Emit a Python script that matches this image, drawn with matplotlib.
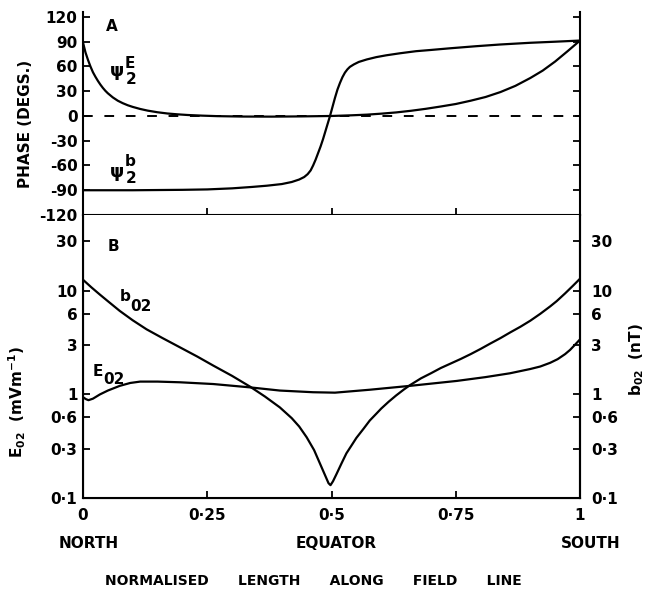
import matplotlib
matplotlib.use("Agg")
import matplotlib.pyplot as plt
from matplotlib.ticker import FixedLocator, NullLocator

plt.rcParams['font.family'] = ['DejaVu Sans']
plt.rcParams['font.weight'] = 'bold'
plt.rcParams['axes.labelweight'] = 'bold'
plt.rcParams['mathtext.fontset'] = 'custom'
plt.rcParams['mathtext.rm'] = 'DejaVu Sans:bold'
plt.rcParams['mathtext.it'] = 'DejaVu Sans:bold'
plt.rcParams['mathtext.bf'] = 'DejaVu Sans:bold'
plt.rcParams['mathtext.default'] = 'rm'

# ---------------- data ----------------
# Panel A: phase (degrees) vs normalised length
psiE_x = [0, 0.005, 0.01, 0.015, 0.02, 0.025, 0.03, 0.035, 0.04, 0.045, 0.05, 0.06,
          0.07, 0.08, 0.09, 0.1, 0.115, 0.13, 0.15, 0.17, 0.19, 0.21, 0.24, 0.27,
          0.32, 0.38, 0.44, 0.5, 0.54, 0.571, 0.6, 0.63, 0.66, 0.69, 0.72, 0.75,
          0.78, 0.81, 0.84, 0.87, 0.9, 0.925, 0.95, 0.975, 1.0]
psiE_y = [89, 77, 68, 60, 53, 47.5, 42.5, 38, 34, 30.5, 27.5, 22.5,
          18.5, 15.5, 13, 11, 8.5, 6.5, 4.5, 3, 2, 1.2, 0.4, -0.2,
          -0.7, -0.8, -0.5, 0, 0.8, 1.6, 2.8, 4.3, 6.3, 8.7, 11.5, 14.5,
          18.5, 23, 29, 36.5, 46, 55, 66, 78.5, 91.4]

psib_x = [0, 0.1, 0.2, 0.25, 0.3, 0.34, 0.37, 0.4, 0.42, 0.435, 0.445, 0.452, 0.458,
          0.463, 0.468, 0.473, 0.478, 0.483, 0.488, 0.493, 0.497, 0.502, 0.507, 0.512,
          0.517, 0.522, 0.527, 0.532, 0.537, 0.545, 0.555, 0.571, 0.59, 0.61, 0.638,
          0.67, 0.7, 0.738, 0.79, 0.839, 0.9, 0.95, 1.0]
psib_y = [-90, -90, -89.5, -89, -87.7, -86, -84.5, -82.5, -80, -77, -74, -70.5, -66,
          -60, -53, -45, -37, -28, -18, -8, 0, 11, 22, 32,
          40, 47, 52.5, 56.5, 59.5, 62.5, 65.5, 68.5, 71.3, 73.5, 76,
          78.5, 80, 82, 84.5, 86.6, 88.7, 90, 91.4]

zero_x = [0, 1]
zero_y = [0, 0]

# Panel B: amplitudes (log scale)
b02_x = [0, 0.017, 0.034, 0.05, 0.074, 0.1, 0.128, 0.16, 0.195, 0.23, 0.262, 0.3,
         0.336, 0.366, 0.396, 0.42, 0.435, 0.45, 0.465, 0.477, 0.487, 0.494, 0.498,
         0.503, 0.51, 0.52, 0.53, 0.54, 0.55, 0.565, 0.577, 0.59, 0.6, 0.615, 0.63,
         0.645, 0.658, 0.68, 0.7, 0.72, 0.738, 0.76, 0.78, 0.8, 0.819, 0.84, 0.86,
         0.88, 0.9, 0.92, 0.94, 0.953, 0.97, 0.985, 1.0]
b02_y = [12.8, 10.8, 9.2, 7.95, 6.4, 5.2, 4.25, 3.5, 2.85, 2.32, 1.9, 1.51,
         1.19, 0.955, 0.75, 0.59, 0.49, 0.386, 0.29, 0.214, 0.166, 0.139, 0.133,
         0.145, 0.17, 0.215, 0.27, 0.32, 0.38, 0.47, 0.56, 0.65, 0.73, 0.85, 0.977,
         1.11, 1.23, 1.43, 1.6, 1.8, 1.97, 2.2, 2.45, 2.75, 3.09, 3.5, 3.98,
         4.5, 5.15, 6.0, 7.08, 7.95, 9.45, 11.1, 13.1]

E02_x = [0, 0.006, 0.011, 0.02, 0.034, 0.05, 0.074, 0.095, 0.115, 0.15, 0.195, 0.262,
         0.336, 0.396, 0.463, 0.507, 0.577, 0.658, 0.752, 0.81, 0.859, 0.9, 0.92,
         0.94, 0.955, 0.97, 0.98, 0.99, 1.0]
E02_y = [0.94, 0.9, 0.88, 0.91, 1.0, 1.09, 1.21, 1.29, 1.33, 1.33, 1.31, 1.26,
         1.17, 1.09, 1.05, 1.04, 1.11, 1.21, 1.35, 1.47, 1.60, 1.76, 1.86,
         2.02, 2.19, 2.45, 2.69, 3.02, 3.4]

phase_ticks = [-120, -90, -60, -30, 0, 30, 60, 90, 120]
phase_labels = ['-120', '-90', '-60', '-30', '0', '30', '60', '90', '120']
amp_ticks = [0.1, 0.3, 0.6, 1, 3, 6, 10, 30]
amp_labels = ['0·1', '0·3', '0·6', '1', '3', '6', '10', '30']
x_ticks = [0, 0.25, 0.5, 0.75, 1]
x_labels = ['0', '0·25', '0·5', '0·75', '1']

# ---------------- figure ----------------
W, H = 649, 590
fig = plt.figure(figsize=(W / 100, H / 100), dpi=100)

def fx(px):
    return px / W

def fy(py):
    return 1 - py / H

L, R = 83, 580
axA = fig.add_axes([fx(L), fy(215), fx(R - L), (215 - 12) / H])
axB = fig.add_axes([fx(L), fy(498), fx(R - L), (498 - 215) / H])

lw = 1.6
fs = 11

# ---- Panel A ----
axA.plot(psiE_x, psiE_y, color='black', lw=lw)
axA.plot(psib_x, psib_y, color='black', lw=lw)
axA.plot(zero_x, zero_y, color='black', lw=1.4, dashes=(5, 6))
axA.set_xlim(0, 1)
axA.set_ylim(-120, 126)
axA.spines['top'].set_visible(False)
for s in ['left', 'right', 'bottom']:
    axA.spines[s].set_linewidth(1.5)
axA.yaxis.set_major_locator(FixedLocator(phase_ticks))
axA.set_yticklabels(phase_labels)
axA.xaxis.set_major_locator(FixedLocator([0.25, 0.5, 0.75]))
axA.tick_params(axis='x', direction='in', length=5, width=1.3, labelbottom=False)
axA.tick_params(axis='y', direction='in', length=5, width=1.3, left=True, right=True,
                labelleft=True, labelright=False, labelsize=fs, pad=4)
axA.set_ylabel('PHASE (DEGS.)', fontsize=fs)
axA.yaxis.set_label_coords(-0.1, 0.45)

axA.text(0.058, 109, 'A', fontsize=fs, ha='center', va='center')
axA.text(0.069, 54, 'ψ', fontsize=fs + 2, ha='center', va='center')
axA.text(0.095, 63, 'E', fontsize=fs, ha='center', va='center')
axA.text(0.097, 44, '2', fontsize=fs, ha='center', va='center')
axA.text(0.069, -68, 'ψ', fontsize=fs + 2, ha='center', va='center')
axA.text(0.095, -55, 'b', fontsize=fs, ha='center', va='center')
axA.text(0.097, -76, '2', fontsize=fs, ha='center', va='center')

# ---- Panel B ----
axB.plot(b02_x, b02_y, color='black', lw=lw)
axB.plot(E02_x, E02_y, color='black', lw=lw)
axB.set_yscale('log')
axB.set_xlim(0, 1)
axB.set_ylim(0.1, 54)
axB.spines['top'].set_visible(False)
for s in ['left', 'right', 'bottom']:
    axB.spines[s].set_linewidth(1.5)
axB.yaxis.set_major_locator(FixedLocator(amp_ticks))
axB.yaxis.set_minor_locator(NullLocator())
axB.set_yticklabels(amp_labels)
axB.xaxis.set_major_locator(FixedLocator(x_ticks))
axB.set_xticklabels(x_labels)
axB.tick_params(axis='x', direction='in', length=5, width=1.3, labelsize=fs, pad=7)
axB.tick_params(axis='y', direction='in', length=5, width=1.3, left=True, right=False,
                labelleft=True, labelright=False, labelsize=fs, pad=4)
axB.set_ylabel('E$_{02}$  (mVm$^{-1}$)', fontsize=fs)
axB.yaxis.set_label_coords(-0.11, 0.34)

# right axis: b02 in nT on the same scale
axR = axB.twinx()
axR.set_yscale('log')
axR.set_ylim(axB.get_ylim())
axR.spines['top'].set_visible(False)
axR.spines['right'].set_linewidth(1.5)
axR.yaxis.set_major_locator(FixedLocator(amp_ticks))
axR.yaxis.set_minor_locator(NullLocator())
axR.set_yticklabels(amp_labels)
axR.tick_params(axis='y', direction='in', length=5, width=1.3, labelsize=fs, pad=8)

axB.text(0.062, 26.8, 'B', fontsize=fs, ha='center', va='center')
axB.text(0.0744, 8.0, 'b', fontsize=fs, ha='left', va='baseline')
axB.text(0.0946, 6.42, '02', fontsize=fs, ha='left', va='baseline')
axB.text(0.020, 1.52, 'E', fontsize=fs, ha='left', va='baseline')
axB.text(0.040, 1.25, '02', fontsize=fs, ha='left', va='baseline')

fig.text(fx(637), fy(360), 'b$_{02}$  (nT)', fontsize=fs, rotation=90,
         ha='center', va='center')

# ---- bottom annotations ----
fig.text(fx(89), fy(543), 'NORTH', fontsize=fs, ha='center', va='center')
fig.text(fx(336), fy(543), 'EQUATOR', fontsize=fs, ha='center', va='center')
fig.text(fx(591), fy(543), 'SOUTH', fontsize=fs, ha='center', va='center')
fig.text(fx(313), fy(581), 'NORMALISED      LENGTH      ALONG      FIELD      LINE',
         fontsize=fs - 1, ha='center', va='center')

fig.savefig('out.png', dpi=100)
